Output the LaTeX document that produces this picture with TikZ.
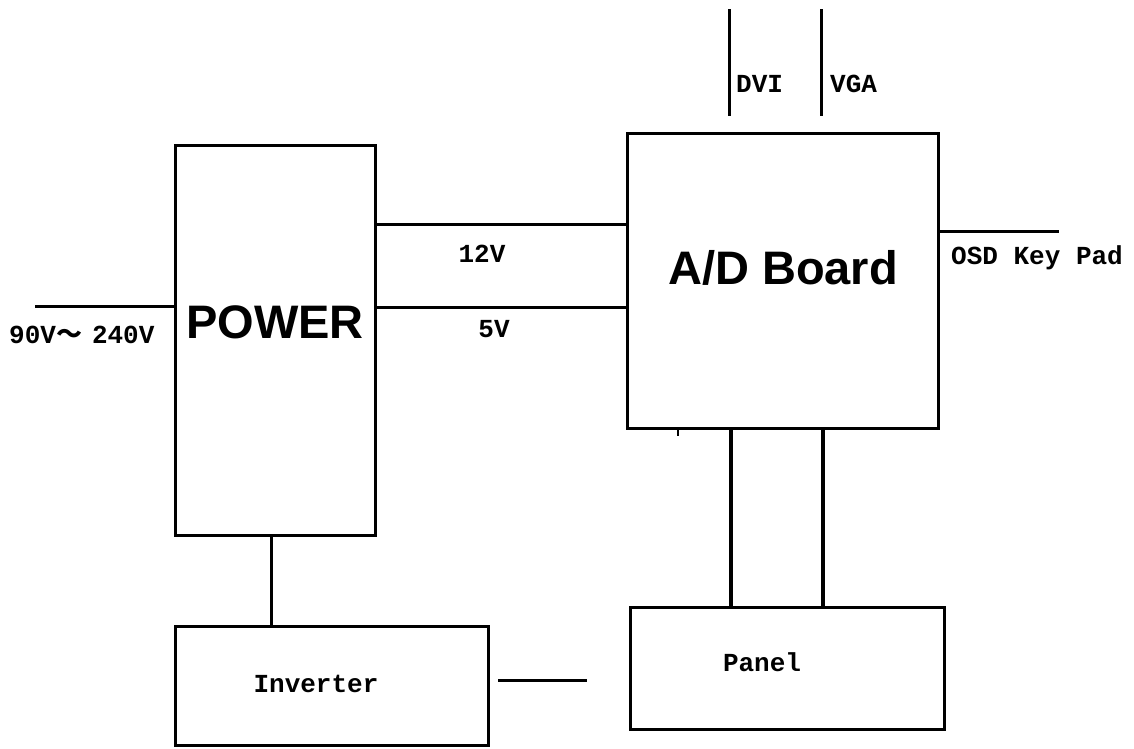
\documentclass[tikz,border=0pt]{standalone}
\usepackage{fontspec}
\setmainfont{Liberation Serif}
\newfontfamily\labfont{Liberation Mono}
\newfontfamily\bigfont{Liberation Sans}
\newfontfamily\cjkfont{Noto Sans CJK SC}
\begin{document}
\begin{tikzpicture}[x=1pt,y=-1pt,
  blk/.style={draw,line width=3pt,rectangle,inner sep=0pt},
  wire/.style={line width=3pt},
  thick wire/.style={line width=4.5pt},
  lab/.style={font=\labfont\bfseries\fontsize{26}{26}\selectfont,inner sep=0pt},
  big/.style={font=\bigfont\bfseries\fontsize{47}{47}\selectfont,inner sep=0pt}]
\useasboundingbox (0,0) rectangle (1134,748);
\fill[white] (0,0) rectangle (1134,748);
% blocks
\node[blk,minimum width=200pt,minimum height=390pt] (pw) at (275,340) {};
\node[blk,minimum width=311pt,minimum height=295pt] (ad) at (782.5,280.5) {};
\node[blk,minimum width=313pt,minimum height=119pt] (inv) at (331.5,685.5) {};
\node[blk,minimum width=314pt,minimum height=122pt] (pan) at (787,668) {};
% block texts
\node[big] (pwt) at (275,322) {POWER};
\node[big] (adt) at (783,268) {A/D Board};
\node[lab] (invt) at (316,684) {Inverter};
\node[lab] (pant) at (762,662) {Panel};
% free ends
\coordinate (acin) at (35,306);
\coordinate (dvitop) at (729,9);
\coordinate (vgatop) at (821,9);
\coordinate (osdend) at (1059,231);
\coordinate (invA) at (498,680);
\coordinate (invB) at (587,680);
% connectors
\draw[wire] (acin) -- (pw.west |- acin);
\draw[wire] (pw.east |- 0,224) -- (ad.west |- 0,224);
\draw[wire] (pw.east |- 0,307) -- (ad.west |- 0,307);
\draw[wire] (dvitop) -- (dvitop |- 0,116);
\draw[wire] (vgatop) -- (vgatop |- 0,116);
\draw[wire] (ad.east |- osdend) -- (osdend);
\draw[wire] (pw.south -| 271,0) -- (inv.north -| 271,0);
\draw[wire] (invA) -- (invB);
\draw[thick wire] (ad.south -| 731,0) -- (pan.north -| 731,0);
\draw[thick wire] (ad.south -| 823,0) -- (pan.north -| 823,0);
\draw[line width=2pt] (ad.south -| 678,0) -- (678,436);
% labels
\node[lab,anchor=west] (acl) at (9,335) {90V{\cjkfont\bfseries ～}\hspace{10pt}240V};
\node[lab] (v12) at (482,254) {12V};
\node[lab] (v5) at (494,329) {5V};
\node[lab,anchor=west] (dvil) at (736,84) {DVI};
\node[lab,anchor=west] (vgal) at (830,84) {VGA};
\node[lab,anchor=west] (osdl) at (951,258) {OSD Key Pad};
\end{tikzpicture}
\end{document}
